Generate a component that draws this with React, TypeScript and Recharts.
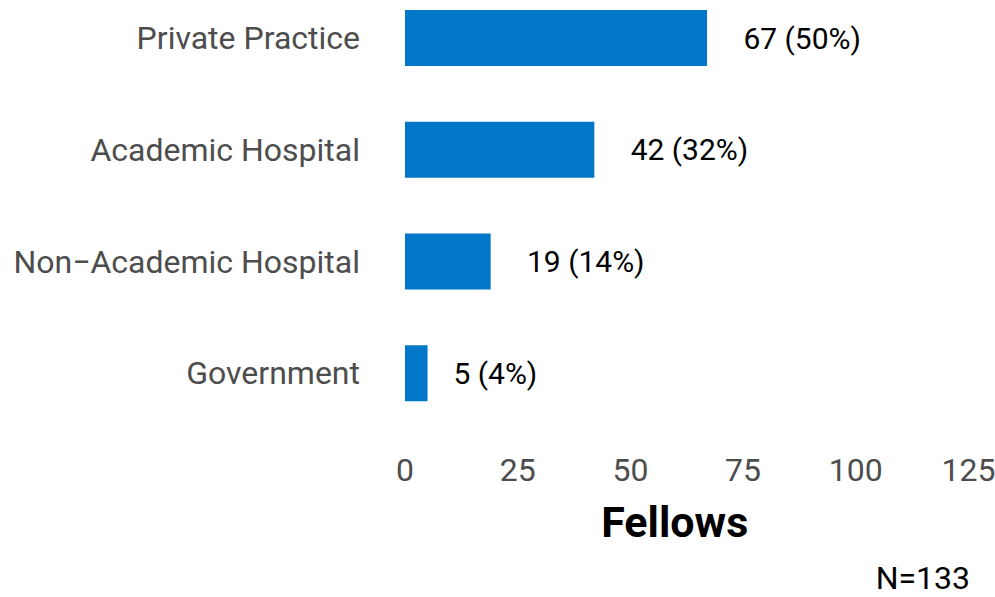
import { BarChart, Bar, XAxis, YAxis, LabelList } from "recharts";

const categories = ["Private Practice", "Academic Hospital", "Non\u2212Academic Hospital", "Government"];
const fellows = [67, 42, 19, 5];
const percents = [50, 32, 14, 4];
const xTicks = [0, 25, 50, 75, 100, 125];

const data = categories.map((name, i) => ({
  name,
  fellows: fellows[i],
  label: `${fellows[i]} (${percents[i]}%)`,
}));

const FONT = "Roboto, 'Noto Sans', sans-serif";

// rough Roboto advance widths, used to mimic a negative hjust
const charWidth = (c: string) => {
  if (/[0-9]/.test(c)) return 0.5615;
  if (c === " ") return 0.248;
  if (c === "(" || c === ")") return 0.342;
  if (c === "%") return 0.732;
  return 0.55;
};
const textWidth = (s: string, size: number) =>
  s.split("").reduce((sum, c) => sum + charWidth(c), 0) * size;

const BarLabel = (props: any) => {
  const { x, y, width, height, value } = props;
  const size = 30;
  const w = textWidth(String(value), size);
  return (
    <text
      x={x + width + w * 0.31}
      y={y + height / 2}
      dy="0.36em"
      textAnchor="start"
      fontSize={size}
      fontFamily={FONT}
      fill="#000000"
    >
      {value}
    </text>
  );
};

const AxisTitle = (props: any) => {
  const { viewBox } = props;
  return (
    <text
      x={viewBox.x + viewBox.width / 2 - 12}
      y={viewBox.y + 108}
      textAnchor="middle"
      fontSize={43}
      fontWeight="bold"
      fontFamily={FONT}
      fill="#000000"
    >
      Fellows
    </text>
  );
};

export default function App(): JSX.Element {
  return (
    <div style={{ position: "absolute", left: 0, top: 0, width: 995, height: 597, background: "#ffffff" }}>
      <BarChart
        width={995}
        height={597}
        data={data}
        layout="vertical"
        barCategoryGap="25%"
        margin={{ top: -18, right: 26.5, left: 0, bottom: 108 }}
      >
        <XAxis
          type="number"
          domain={[0, 125]}
          ticks={xTicks}
          height={60}
          axisLine={false}
          tickLine={false}
          tickMargin={23}
          tick={{ fill: "#4d4d4d", fontSize: 32, fontFamily: FONT }}
          label={<AxisTitle />}
        />
        <YAxis
          type="category"
          dataKey="name"
          width={405}
          axisLine={false}
          tickLine={false}
          tickMargin={39}
          tick={{ fill: "#4d4d4d", fontSize: 32, fontFamily: FONT }}
        />
        <Bar dataKey="fellows" fill="#0077c8" isAnimationActive={false}>
          <LabelList dataKey="label" content={<BarLabel />} />
        </Bar>
      </BarChart>
      <div
        style={{
          position: "absolute",
          right: 25,
          top: 562,
          fontSize: 32,
          lineHeight: "32px",
          fontFamily: FONT,
          color: "#000000",
        }}
      >
        N=133
      </div>
    </div>
  );
}
